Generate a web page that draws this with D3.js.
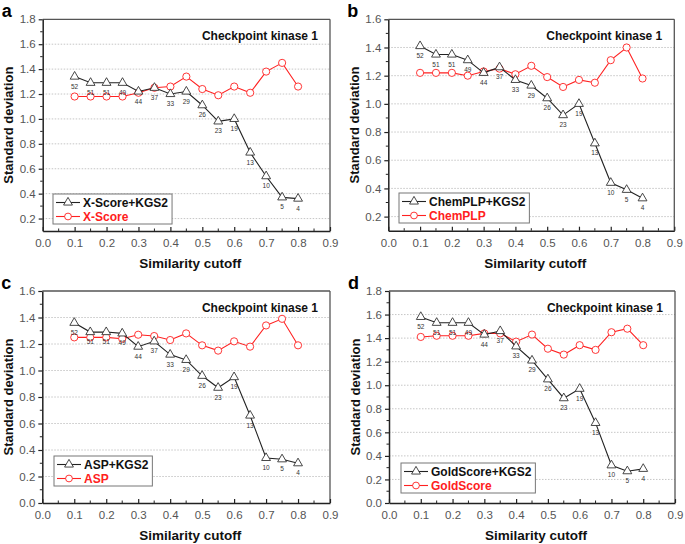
<!DOCTYPE html>
<html>
<head>
<meta charset="utf-8">
<script src="https://cdn.jsdelivr.net/npm/d3@7"></script>
<style>
  body { margin: 0; background: #fff; }
  svg { font-family: Arial, "Liberation Sans", sans-serif; }
</style>
</head>
<body>
<svg id="chart" width="685" height="544"></svg>
<script>
// ---------------- data ----------------
const cutoffs = [0.1, 0.15, 0.2, 0.25, 0.3, 0.35, 0.4, 0.45, 0.5, 0.55, 0.6, 0.65, 0.7, 0.75, 0.8];
const counts = [52, 51, 51, 49, 44, 37, 33, 29, 26, 23, 19, 13, 10, 5, 4];

const xscoreKGS2 = [1.34, 1.29, 1.29, 1.29, 1.22, 1.25, 1.20, 1.22, 1.11, 0.98, 1.00, 0.73, 0.54, 0.37, 0.36];
const xscore     = [1.18, 1.18, 1.18, 1.18, 1.21, 1.25, 1.26, 1.34, 1.24, 1.19, 1.26, 1.21, 1.38, 1.45, 1.26];

const chemplpKGS2 = [1.41, 1.35, 1.35, 1.31, 1.22, 1.26, 1.17, 1.13, 1.04, 0.92, 1.00, 0.72, 0.44, 0.39, 0.33];
const chemplp     = [1.22, 1.22, 1.22, 1.20, 1.23, 1.25, 1.21, 1.27, 1.19, 1.12, 1.17, 1.15, 1.31, 1.40, 1.18];

const aspKGS2 = [1.36, 1.29, 1.29, 1.28, 1.18, 1.22, 1.12, 1.08, 0.96, 0.87, 0.95, 0.66, 0.34, 0.33, 0.30];
const asp     = [1.25, 1.25, 1.25, 1.24, 1.27, 1.26, 1.23, 1.28, 1.19, 1.15, 1.22, 1.18, 1.34, 1.39, 1.19];

const goldKGS2 = [1.58, 1.53, 1.53, 1.53, 1.43, 1.46, 1.33, 1.21, 1.05, 0.89, 0.97, 0.68, 0.32, 0.27, 0.29];
const gold     = [1.41, 1.42, 1.42, 1.42, 1.44, 1.44, 1.37, 1.43, 1.31, 1.26, 1.34, 1.30, 1.45, 1.48, 1.34];

const xTicks = [0, 0.1, 0.2, 0.3, 0.4, 0.5, 0.6, 0.7, 0.8, 0.9];
const yTicksA = [0.2, 0.4, 0.6, 0.8, 1.0, 1.2, 1.4, 1.6, 1.8];
const yTicksB = [0.2, 0.4, 0.6, 0.8, 1.0, 1.2, 1.4, 1.6];
const yTicksC = [0.0, 0.2, 0.4, 0.6, 0.8, 1.0, 1.2, 1.4, 1.6];
const yTicksD = [0.0, 0.2, 0.4, 0.6, 0.8, 1.0, 1.2, 1.4, 1.6, 1.8];

const panelLetters = ["a", "b", "c", "d"];
const seriesNamesKGS2 = ["X-Score+KGS2", "ChemPLP+KGS2", "ASP+KGS2", "GoldScore+KGS2"];
const seriesNames = ["X-Score", "ChemPLP", "ASP", "GoldScore"];
const panelTitle = "Checkpoint kinase 1";
const xTitle = "Similarity cutoff";
const yTitle = "Standard deviation";

// ---------------- layout ----------------
const panels = [
  { letter: panelLetters[0], kgs: xscoreKGS2, base: xscore, nk: seriesNamesKGS2[0], nb: seriesNames[0],
    yTicks: yTicksA, ydom: [0.1, 1.8],
    plot: { l: 42.7, r: 330, t: 19.3, b: 231 }, legend: { x: 53, y: 194 } },
  { letter: panelLetters[1], kgs: chemplpKGS2, base: chemplp, nk: seriesNamesKGS2[1], nb: seriesNames[1],
    yTicks: yTicksB, ydom: [0.1, 1.6],
    plot: { l: 388.3, r: 674.3, t: 19.3, b: 230.7 }, legend: { x: 399, y: 193 } },
  { letter: panelLetters[2], kgs: aspKGS2, base: asp, nk: seriesNamesKGS2[2], nb: seriesNames[2],
    yTicks: yTicksC, ydom: [0.0, 1.6],
    plot: { l: 42.3, r: 330, t: 291, b: 503 }, legend: { x: 54, y: 456 } },
  { letter: panelLetters[3], kgs: goldKGS2, base: gold, nk: seriesNamesKGS2[3], nb: seriesNames[3],
    yTicks: yTicksD, ydom: [0.0, 1.8],
    plot: { l: 389, r: 675, t: 291, b: 503 }, legend: { x: 401, y: 463 } }
];

const svg = d3.select("#chart");
const RED = "#ff2020";

function drawPanel(p) {
  const g = svg.append("g");
  const P = p.plot;
  const x = d3.scaleLinear().domain([0, 0.9]).range([P.l, P.r]);
  const y = d3.scaleLinear().domain(p.ydom).range([P.b, P.t]);

  // grid lines
  g.append("g").selectAll("line")
    .data(p.yTicks.filter(v => Math.abs(v - p.ydom[1]) > 1e-6 && v > p.ydom[0] + 1e-6))
    .join("line")
    .attr("x1", P.l).attr("x2", P.r)
    .attr("y1", d => y(d)).attr("y2", d => y(d))
    .attr("stroke", "#b8b8b8").attr("stroke-width", 0.8)
    .attr("stroke-dasharray", "1.5,1.5");

  // frame top/right
  g.append("line").attr("x1", P.l).attr("x2", P.r).attr("y1", P.t).attr("y2", P.t)
    .attr("stroke", "#555").attr("stroke-width", 1.3);
  g.append("line").attr("x1", P.r).attr("x2", P.r).attr("y1", P.t).attr("y2", P.b)
    .attr("stroke", "#555").attr("stroke-width", 1.3);

  // x axis (ticks inward)
  const xAxis = d3.axisBottom(x).tickValues(xTicks).tickFormat(d3.format(".1f"))
    .tickSizeInner(-4).tickSizeOuter(0).tickPadding(8);
  const xa = g.append("g").attr("transform", `translate(0,${P.b})`).call(xAxis);
  xa.select(".domain").attr("stroke", "#222").attr("stroke-width", 1.5);
  xa.selectAll(".tick line").attr("stroke", "#222").attr("stroke-width", 1.2);
  xa.selectAll("text").attr("fill", "#555").attr("font-size", 11.5);
  // x minor ticks
  g.append("g").selectAll("line").data(d3.range(0.05, 0.9, 0.1)).join("line")
    .attr("x1", d => x(d)).attr("x2", d => x(d))
    .attr("y1", P.b).attr("y2", P.b - 2.5)
    .attr("stroke", "#222").attr("stroke-width", 1);

  // y axis (ticks outward)
  const yAxis = d3.axisLeft(y).tickValues(p.yTicks).tickFormat(d3.format(".1f"))
    .tickSizeInner(4).tickSizeOuter(0).tickPadding(3);
  const ya = g.append("g").attr("transform", `translate(${P.l},0)`).call(yAxis);
  ya.select(".domain").attr("stroke", "#222").attr("stroke-width", 1.5);
  ya.selectAll(".tick line").attr("stroke", "#222").attr("stroke-width", 1.2);
  ya.selectAll("text").attr("fill", "#555").attr("font-size", 11.5);
  // y minor ticks
  const minorY = d3.range(0, 20).map(i => +(i * 0.2 + 0.1).toFixed(2))
    .filter(v => v > p.ydom[0] && v < p.ydom[1]);
  g.append("g").selectAll("line").data(minorY).join("line")
    .attr("x1", P.l).attr("x2", P.l - 2.5)
    .attr("y1", d => y(d)).attr("y2", d => y(d))
    .attr("stroke", "#222").attr("stroke-width", 1);

  // axis titles
  g.append("text").attr("x", (P.l + P.r) / 2 + 4).attr("y", P.b + 37)
    .attr("text-anchor", "middle").attr("font-weight", "bold").attr("font-size", 13.5)
    .attr("fill", "#111").text(xTitle);
  g.append("text")
    .attr("transform", `translate(${P.l - 29.5},${(P.t + P.b) / 2}) rotate(-90)`)
    .attr("text-anchor", "middle").attr("font-weight", "bold").attr("font-size", 13)
    .attr("fill", "#111").text(yTitle);

  // panel letter
  g.append("text").attr("x", P.l - 41).attr("y", P.t - 2.5)
    .attr("font-weight", "bold").attr("font-size", 18).attr("fill", "#000").text(p.letter);

  // panel title
  g.append("text").attr("x", P.r - 12).attr("y", P.t + 21)
    .attr("text-anchor", "end").attr("font-weight", "bold").attr("font-size", 12)
    .attr("fill", "#111").text(panelTitle);

  const line = d3.line().x((d, i) => x(cutoffs[i])).y(d => y(d));

  // base (red) series
  g.append("path").datum(p.base).attr("d", line)
    .attr("fill", "none").attr("stroke", RED).attr("stroke-width", 1.1);
  g.append("g").selectAll("circle").data(p.base).join("circle")
    .attr("cx", (d, i) => x(cutoffs[i])).attr("cy", d => y(d)).attr("r", 3.6)
    .attr("fill", "#fff").attr("stroke", RED).attr("stroke-width", 0.9);

  // KGS2 (black) series
  g.append("path").datum(p.kgs).attr("d", line)
    .attr("fill", "none").attr("stroke", "#222").attr("stroke-width", 1.1);
  const tri = d3.symbol().type(d3.symbolTriangle).size(34);
  g.append("g").selectAll("path").data(p.kgs).join("path")
    .attr("d", tri)
    .attr("transform", (d, i) => `translate(${x(cutoffs[i])},${y(d)})`)
    .attr("fill", "#fff").attr("stroke", "#333").attr("stroke-width", 0.9);

  // count labels
  g.append("g").selectAll("text").data(p.kgs).join("text")
    .attr("x", (d, i) => x(cutoffs[i])).attr("y", d => y(d) + 12)
    .attr("text-anchor", "middle").attr("font-size", 6.5).attr("fill", "#333")
    .text((d, i) => counts[i]);

  // legend
  const L = p.legend;
  const lg = g.append("g");
  const rect = lg.append("rect").attr("x", L.x).attr("y", L.y).attr("height", 30)
    .attr("fill", "#fff").attr("stroke", "#777").attr("stroke-width", 1);
  const entries = [
    { name: p.nk, color: "#222", text: "#111", sym: "tri" },
    { name: p.nb, color: RED, text: RED, sym: "circ" }
  ];
  let maxW = 0;
  entries.forEach((e, k) => {
    const cy = L.y + 8.5 + k * 14;
    lg.append("line").attr("x1", L.x + 3).attr("x2", L.x + 27).attr("y1", cy).attr("y2", cy)
      .attr("stroke", e.color).attr("stroke-width", 1.1);
    if (e.sym === "tri") {
      lg.append("path").attr("d", tri).attr("transform", `translate(${L.x + 15},${cy})`)
        .attr("fill", "#fff").attr("stroke", "#333").attr("stroke-width", 0.9);
    } else {
      lg.append("circle").attr("cx", L.x + 15).attr("cy", cy).attr("r", 3.4)
        .attr("fill", "#fff").attr("stroke", RED).attr("stroke-width", 0.9);
    }
    const t = lg.append("text").attr("x", L.x + 30).attr("y", cy + 4.3)
      .attr("font-weight", "bold").attr("font-size", 12).attr("fill", e.text).text(e.name);
    maxW = Math.max(maxW, t.node().getComputedTextLength());
  });
  rect.attr("width", 30 + maxW + 4);
}

panels.forEach(drawPanel);
</script>
</body>
</html>
